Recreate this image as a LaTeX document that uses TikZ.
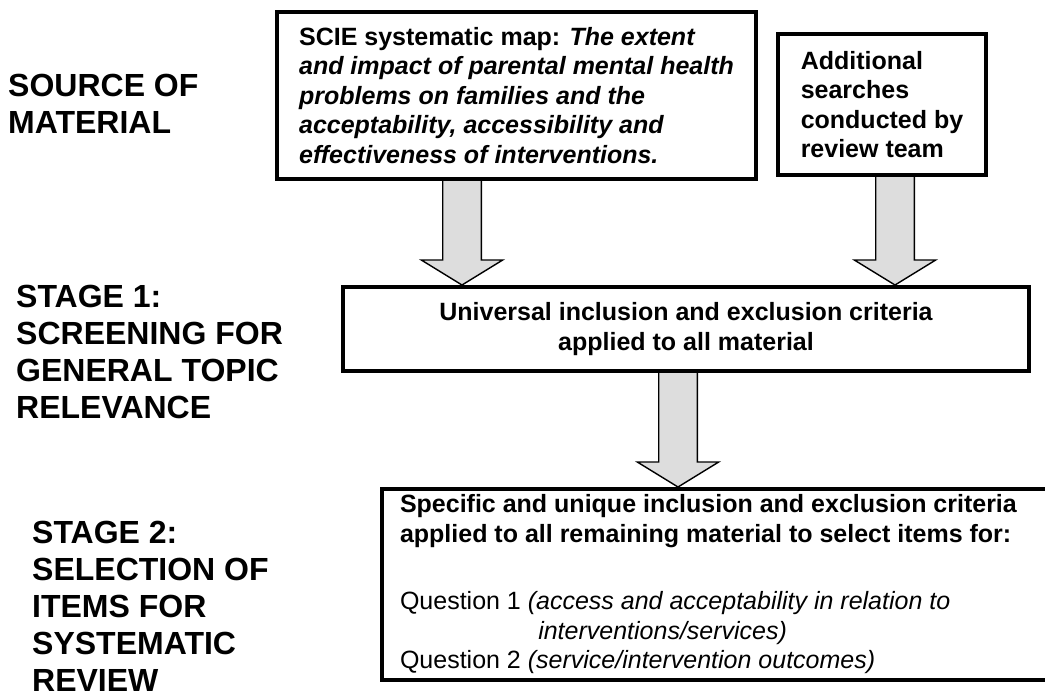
\documentclass[tikz,border=0pt]{standalone}
\usepackage{fontspec}
\setmainfont{Liberation Sans}
\usetikzlibrary{calc}
\definecolor{arrowgrey}{RGB}{221,221,221}

\tikzset{
  stagelabel/.style={anchor=north west, inner sep=0pt, align=left, font=\bfseries\fontsize{32}{37}\selectfont},
  mapbox/.style={draw, line width=4pt, fill=white, inner sep=0pt, font=\fontsize{25}{29.5}\selectfont},
  boldbox/.style={mapbox, font=\bfseries\fontsize{25}{29.5}\selectfont},
  blockarrow/.style={fill=arrowgrey, draw=black, line width=1.4pt, line join=miter}
}

% block arrow from bottom of #1 down to top of #2, centred on x = #3
\newcommand{\flowarrow}[3]{%
  \filldraw[blockarrow] let \p1=(#1.south), \p2=(#2.north), \p3=(#3,0) in
    (\x3-19.3pt,\y1) -- (\x3-19.3pt,\y2+25pt) -- (\x3-40.7pt,\y2+25pt) -- (\x3,\y2)
    -- (\x3+40.7pt,\y2+25pt) -- (\x3+19.3pt,\y2+25pt) -- (\x3+19.3pt,\y1);}

\begin{document}
\begin{tikzpicture}[x=1pt, y=-1pt]
        \useasboundingbox (0,0) rectangle (1045,697);

        % stage labels on the left
        \node[stagelabel] (source) at (8,74) {SOURCE OF\\MATERIAL};
        \node[stagelabel] (stageone) at (16,285) {STAGE 1:\\SCREENING FOR\\GENERAL TOPIC\\RELEVANCE};
        \node[stagelabel] (stagetwo) at (32,521) {STAGE 2:\\SELECTION OF\\ITEMS FOR\\SYSTEMATIC\\REVIEW};

        % boxes
        \node[boldbox, align=left, minimum width=479pt, minimum height=167pt] (scie) at (516.5,95.5) {
            SCIE systematic map: \textit{The extent}\\
            \textit{and impact of parental mental health}\\
            \textit{problems on families and the}\\
            \textit{acceptability, accessibility and}\\
            \textit{effectiveness of interventions.}
        };
        \node[boldbox, align=left, minimum width=208pt, minimum height=141pt] (extra) at (882,104.5) {
            Additional\\
            searches\\
            conducted by\\
            review team
        };
        \node[boldbox, align=center, minimum width=686pt, minimum height=84pt] (universal) at (686,329) {
            Universal inclusion and exclusion criteria\\
            applied to all material
        };
        \node[mapbox, align=flush left, text width=642pt, minimum width=678pt, minimum height=191pt] (specific) at (721,584.5) {
            \textbf{Specific and unique inclusion and exclusion criteria}\\
            \textbf{applied to all remaining material to select items for:}\\[38pt]
            Question 1 \textit{(access and acceptability in relation to}\\
            \phantom{Question 1 \textit{(}}\textit{interventions/services)}\\
            Question 2 \textit{(service/intervention outcomes)}
        };

        % arrows
        \flowarrow{scie}{universal}{462}
        \flowarrow{extra}{universal}{895}
        \flowarrow{universal}{specific}{678}
    \end{tikzpicture}
\end{document}
